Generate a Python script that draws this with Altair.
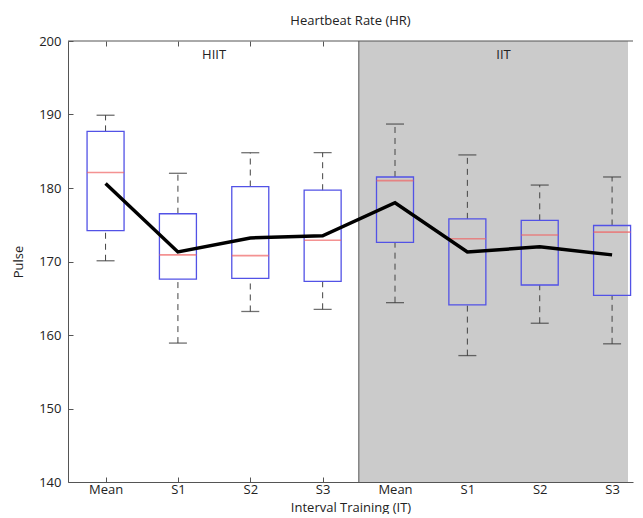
import altair as alt
import pandas as pd

# ---- data ----
categories = ["Mean", "S1", "S2", "S3", "Mean", "S1", "S2", "S3"]
groups = ["HIIT", "HIIT", "HIIT", "HIIT", "IIT", "IIT", "IIT", "IIT"]
positions = [0, 1, 2, 3, 4, 5, 6, 7]
whisker_high = [189.9, 182.0, 184.8, 184.8, 188.7, 184.5, 180.4, 181.5]
q3_values = [187.7, 176.5, 180.2, 179.7, 181.5, 175.8, 175.6, 174.9]
median_values = [182.1, 170.9, 170.8, 172.9, 181.0, 173.1, 173.6, 174.0]
q1_values = [174.2, 167.6, 167.7, 167.3, 172.6, 164.1, 166.8, 165.4]
whisker_low = [170.1, 158.9, 163.2, 163.5, 164.4, 157.2, 161.6, 158.8]
mean_values = [180.6, 171.3, 173.2, 173.5, 178.0, 171.3, 172.0, 170.9]
y_ticks = [140, 150, 160, 170, 180, 190, 200]
group_names = ["HIIT", "IIT"]

Y_MIN, Y_MAX = 140, 200
X_MIN, X_MAX = -0.45, 7.22
SPLIT = 3.5

FONT = "Open Sans"
TXT = "#222222"

df = pd.DataFrame({
    "pos": positions, "cat": categories, "grp": groups,
    "hi": whisker_high, "q3": q3_values, "med": median_values,
    "q1": q1_values, "lo": whisker_low, "mean": mean_values,
})
frame_df = pd.DataFrame({"x": [SPLIT], "x2": [X_MAX], "y": [Y_MIN], "y2": [Y_MAX]})
label_df = pd.DataFrame({
    "name": group_names,
    "center": [sum(p for p, g in zip(positions, groups) if g == n) /
               groups.count(n) for n in group_names],
})

xs = alt.Scale(domain=[X_MIN, X_MAX], nice=False, zero=False)
ys = alt.Scale(domain=[Y_MIN, Y_MAX], nice=False, zero=False)

label_js = "[" + ",".join('"%s"' % c for c in categories) + "]"

main_x_axis = alt.Axis(
    values=positions, labelExpr=label_js + "[datum.value]", tickSize=0,
    labelPadding=1, labelFontSize=13, labelFont=FONT, labelColor=TXT,
    title="Interval Training (IT)", titleFontSize=13, titleFont=FONT,
    titleFontWeight="normal", titleColor=TXT, titlePadding=5,
    domainColor="#555555", grid=False, orient="bottom", zindex=1,
)
main_y_axis = alt.Axis(
    values=y_ticks, tickSize=0, labelPadding=7, labelFontSize=13,
    labelFont=FONT, labelColor=TXT, title="Pulse", titleFontSize=13,
    titleFont=FONT, titleFontWeight="normal", titleColor=TXT,
    titlePadding=13, domainColor="#555555", grid=False, orient="left", zindex=1,
)
tick_x_axis = alt.Axis(
    values=positions, labels=False, domain=False, tickSize=5, offset=-5,
    tickColor="#555555", title=None, grid=False, orient="bottom", zindex=0,
)
tick_top_axis = alt.Axis(
    values=positions, labels=False, domain=False, tickSize=5, offset=-5,
    tickColor="#555555", title=None, grid=False, orient="top", zindex=0,
)
tick_y_axis = alt.Axis(
    values=y_ticks, labels=False, domain=False, tickSize=5, offset=-5,
    tickColor="#555555", title=None, grid=False, orient="left", zindex=0,
)

shade = alt.Chart(frame_df).mark_rect(color="#cbcbcb").encode(
    x=alt.X("x:Q", scale=xs, axis=main_x_axis),
    x2="x2:Q",
    y=alt.Y("y:Q", scale=ys, axis=main_y_axis),
    y2="y2:Q",
)
sep = alt.Chart(frame_df).mark_rule(color="#555555", strokeWidth=1).encode(
    x=alt.X("x:Q", scale=xs, axis=tick_x_axis),
    y=alt.Y("y:Q", scale=ys, axis=tick_y_axis),
    y2="y2:Q",
)
top_line = alt.Chart(frame_df).mark_rule(color="#555555", strokeWidth=1).encode(
    y=alt.Y("y2:Q", scale=ys, axis=None),
)

X = alt.X("pos:Q", scale=xs, axis=None)

whisk_up = alt.Chart(df).mark_rule(color="#444444", strokeDash=[6, 5], strokeWidth=1).encode(
    x=X, y=alt.Y("q3:Q", scale=ys, axis=None), y2="hi:Q")
whisk_dn = alt.Chart(df).mark_rule(color="#444444", strokeDash=[6, 5], strokeWidth=1).encode(
    x=X, y=alt.Y("lo:Q", scale=ys, axis=None), y2="q1:Q")
cap_up = alt.Chart(df).mark_tick(orient="horizontal", size=18, thickness=1.3, color="#333333").encode(
    x=X, y=alt.Y("hi:Q", scale=ys, axis=None))
cap_dn = alt.Chart(df).mark_tick(orient="horizontal", size=18, thickness=1.3, color="#333333").encode(
    x=X, y=alt.Y("lo:Q", scale=ys, axis=None))
boxes = alt.Chart(df).mark_bar(size=37, fill="transparent", stroke="#5252e6", strokeWidth=1.3).encode(
    x=X, y=alt.Y("q1:Q", scale=ys, axis=None), y2="q3:Q")
medians = alt.Chart(df).mark_tick(orient="horizontal", size=37, thickness=1.6, color="#f06464").encode(
    x=X, y=alt.Y("med:Q", scale=ys, axis=None))
mean_line = alt.Chart(df).mark_line(color="black", strokeWidth=3.5).encode(
    x=alt.X("pos:Q", scale=xs, axis=tick_top_axis),
    y=alt.Y("mean:Q", scale=ys, axis=None))
group_labels = alt.Chart(label_df).mark_text(
    font=FONT, fontSize=13, color=TXT, baseline="middle").encode(
    x=alt.X("center:Q", scale=xs, axis=None), y=alt.value(14), text="name:N")

chart = alt.layer(
    shade, sep, top_line, whisk_up, whisk_dn, cap_up, cap_dn, boxes, medians,
    mean_line, group_labels,
).resolve_axis(x="independent", y="independent").properties(
    width=565, height=441,
    padding={"left": 4, "top": 7, "right": 0, "bottom": 0},
    title=alt.TitleParams("Heartbeat Rate (HR)", font=FONT, fontSize=13,
                          fontWeight="normal", color=TXT, offset=7, anchor="middle"),
    background="white",
).configure_view(strokeWidth=0)

chart.save("out.html", embed_options={"renderer": "svg", "actions": False})
